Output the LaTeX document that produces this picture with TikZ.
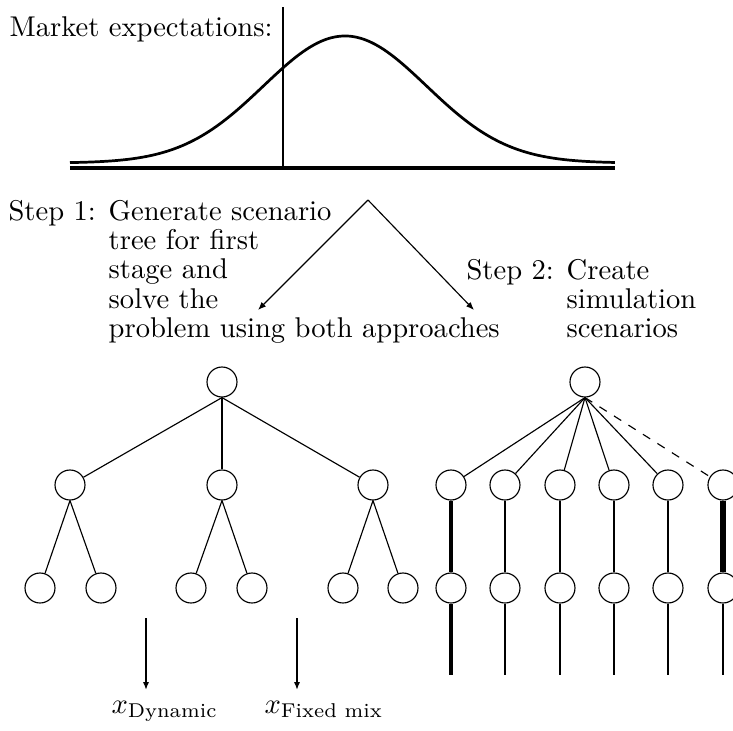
\documentclass[tikz,border=0pt]{standalone}
\usetikzlibrary{arrows.meta}
\newcommand{\diafont}{\fontsize{10}{10.3}\selectfont}
\begin{document}
\begin{tikzpicture}[x=0.35pt, y=-0.35pt, every node/.style={font=\diafont},
    nd/.style={circle, draw, line width=0.4pt, minimum size=10.5pt, inner sep=0pt},
    tip/.style={-{Latex[length=2.8pt,width=2.2pt]}}]
  \useasboundingbox (0,0) rectangle (733,731);

  \node[anchor=base west, inner sep=0pt] (mkt) at (9,36) {Market expectations:};
  \draw[line width=0.6pt] (283,7) -- (283,168);
  \draw[line width=0.95pt] plot[domain=-2.75:2.7, samples=120, smooth]
    ({345+100*\x},{163-127*exp(-\x*\x/1.33)});
  \draw[line width=1.4pt] (70,168) -- (615,168);

  \node[anchor=base west, inner sep=0pt] (step1) at (8,220)
    {\begin{tabular}[t]{@{}l@{\hspace{4.5pt}}l@{}}
      Step 1: & Generate scenario\\
              & tree for first\\
              & stage and\\
              & solve the\\
              & problem using both approaches
    \end{tabular}};
  \node[anchor=base west, inner sep=0pt] (step2) at (466,279)
    {\begin{tabular}[t]{@{}l@{\hspace{4.5pt}}l@{}}
      Step 2: & Create\\
              & simulation\\
              & scenarios
    \end{tabular}};

  \coordinate (apex) at (368,200);
  \coordinate (tl) at (258,310);
  \coordinate (tr) at (474,310);
  \draw[tip, line width=0.4pt] (apex) -- (tl);
  \draw[tip, line width=0.4pt] (apex) -- (tr);

  \node[nd] (L) at (222,382) {};
  \node[nd] (L1) at (70,485) {};
  \node[nd] (L2) at (222,485) {};
  \node[nd] (L3) at (373,485) {};
  \node[nd] (L11) at (40,588) {};
  \node[nd] (L12) at (101,588) {};
  \node[nd] (L21) at (191,588) {};
  \node[nd] (L22) at (252,588) {};
  \node[nd] (L31) at (343,588) {};
  \node[nd] (L32) at (403,588) {};

  \draw (L.south) -- (L1);
  \draw[line width=0.75pt] (L.south) -- (L2.north);
  \draw (L.south) -- (L3);
  \foreach \p in {1,2,3} {
    \draw (L\p.south) -- (L\p1);
    \draw (L\p.south) -- (L\p2);
  }

  \coordinate (d1) at (146,618);
  \coordinate (d1e) at (146,690);
  \coordinate (d2) at (297,618);
  \coordinate (d2e) at (297,690);
  \draw[tip, line width=0.7pt] (d1) -- (d1e);
  \draw[tip, line width=0.7pt] (d2) -- (d2e);
  \node[anchor=base west, inner sep=0pt] (xdyn) at (111,713) {$x_{\mbox{\scriptsize Dynamic}}$};
  \node[anchor=base west, inner sep=0pt] (xfix) at (264,713) {$x_{\mbox{\scriptsize Fixed mix}}$};

  \node[nd] (R) at (585,382) {};
  \foreach \i/\xx in {1/451,2/505,3/560,4/614,5/668,6/723} {
    \node[nd] (R\i) at (\xx,485) {};
    \node[nd] (S\i) at (\xx,588) {};
    \coordinate (E\i) at (\xx,675);
  }
  \foreach \i in {1,...,5}
    \draw (R.south) -- (R\i);
  \draw[dash pattern=on 3pt off 3pt] (R.south) -- (R6);

  \draw[line width=1.15pt] (R1) -- (S1);
  \draw[line width=1.15pt] (S1) -- (E1);
  \foreach \i in {2,...,5} {
    \draw[line width=0.7pt] (R\i) -- (S\i);
    \draw[line width=0.7pt] (S\i) -- (E\i);
  }
  \draw[line width=1.9pt] (R6) -- (S6);
  \draw[line width=0.7pt] (S6) -- (E6);
\end{tikzpicture}
\end{document}
